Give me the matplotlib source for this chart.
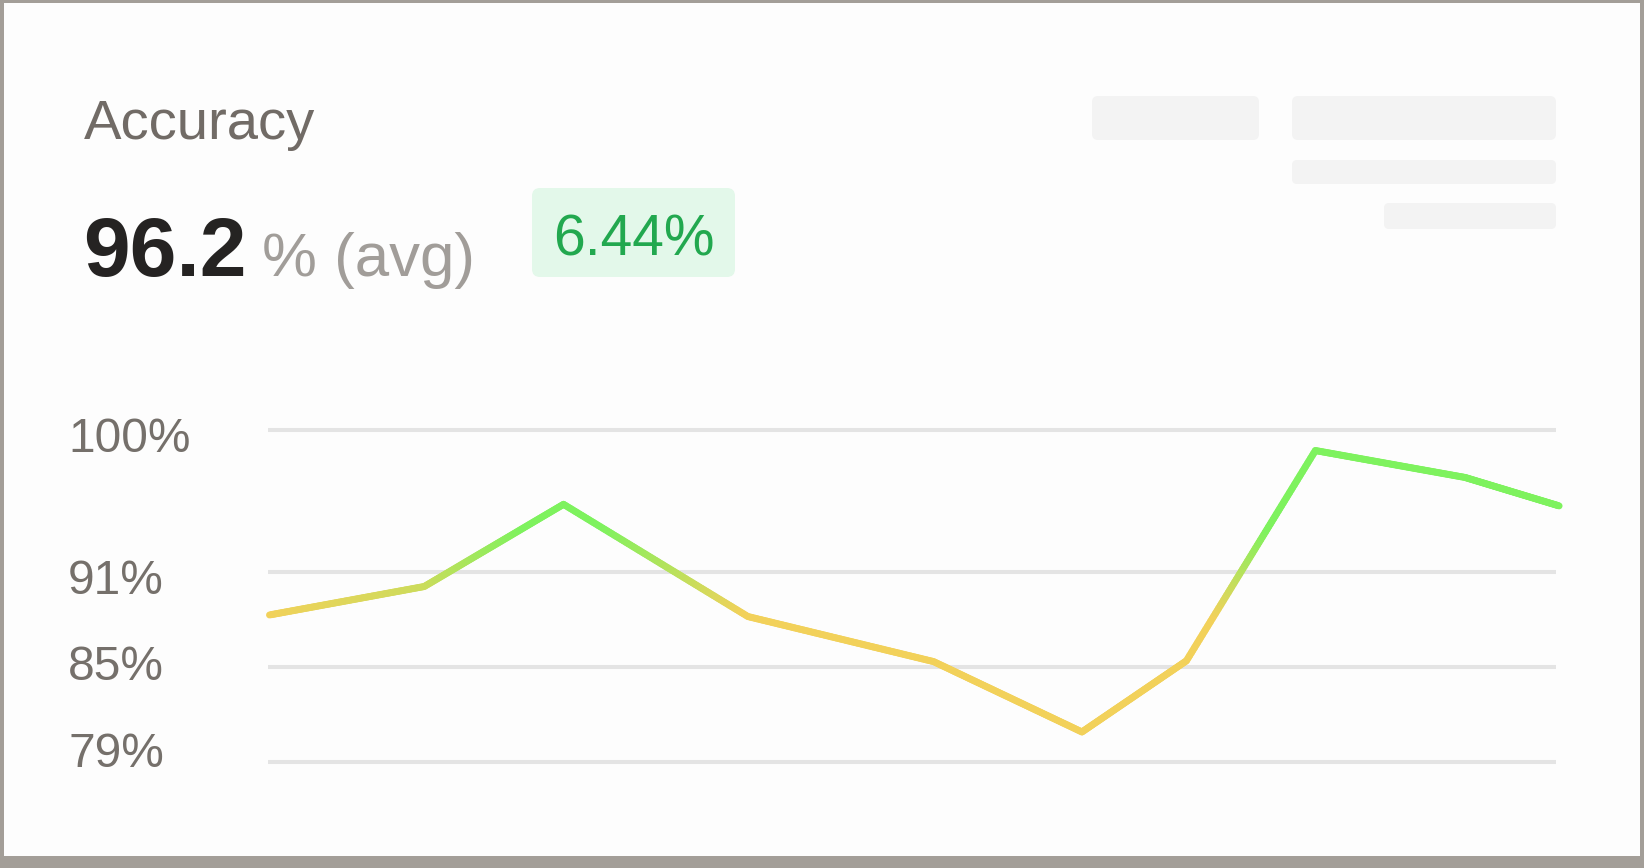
import numpy as np
import matplotlib
matplotlib.use("Agg")
import matplotlib.pyplot as plt
import matplotlib.transforms as mtransforms
from matplotlib.collections import LineCollection
from matplotlib.patches import FancyBboxPatch, Rectangle
from matplotlib.colors import LinearSegmentedColormap, Normalize

# ---- data ----
x_pos = [0, 12.0, 22.8, 37.1, 51.5, 63.0, 71.1, 81.1, 92.7, 100]
accuracy = [88.3, 90.1, 95.3, 88.2, 85.35, 80.9, 85.4, 98.7, 97.0, 95.2]
y_ticks = [79, 85, 91, 100]
y_tick_labels = ["79%", "85%", "91%", "100%"]
title = "Accuracy"
avg_value = "96.2"
avg_unit = "% (avg)"
change_label = "6.44%"

W, H = 1644, 868
plt.rcParams['font.family'] = ['Liberation Sans', 'DejaVu Sans']
fig = plt.figure(figsize=(W / 100, H / 100), dpi=100)
fig.patch.set_facecolor('#a39e98')

T = fig.dpi_scale_trans


def box(x0, y0, x1, y1, color, r, z=1):
    p = FancyBboxPatch((x0 / 100, (H - y1) / 100), (x1 - x0) / 100, (y1 - y0) / 100,
                       boxstyle=f"round,pad=0,rounding_size={r / 100}",
                       transform=T, facecolor=color, edgecolor='none', zorder=z)
    fig.add_artist(p)


# card
fig.add_artist(Rectangle((4 / 100, (H - 856) / 100), (1640 - 4) / 100, (856 - 3) / 100,
                         transform=T, facecolor='#fdfdfd', edgecolor='none', zorder=-10))

# skeleton placeholders
box(1092, 96, 1259, 140, '#f3f3f3', 6)
box(1292, 96, 1556, 140, '#f3f3f3', 6)
box(1292, 160, 1556, 184, '#f3f3f3', 5)
box(1384, 203, 1556, 229, '#f3f3f3', 5)

# header texts
fig.text(84 / W, 1 - 139 / H, title, fontsize=40.5, color='#716b66', va='baseline', ha='left')
fig.text(83 / W, 1 - 276 / H, avg_value, fontsize=60.5, fontweight='bold', color='#252322',
         va='baseline', ha='left')
fig.text(262 / W, 1 - 276 / H, avg_unit, fontsize=44.5, color='#a19d99', va='baseline', ha='left')

# badge
box(532, 188, 735, 277, '#e3f8ea', 8)
fig.text(553 / W, 1 - 255 / H, change_label, fontsize=41, color='#22a84f', va='baseline',
         ha='left', zorder=2)

# ---- chart axes ----
ax_left, ax_right = 268, 1556
px_per_pct = 15.81
y_top_val, y_bot_val = 101, 78
ax_top = 430 - (y_top_val - 100) * px_per_pct
ax_bot = 762 + (79 - y_bot_val) * px_per_pct
ax = fig.add_axes([ax_left / W, 1 - ax_bot / H, (ax_right - ax_left) / W, (ax_bot - ax_top) / H])
ax.set_zorder(5)
ax.set_facecolor('none')
ax.set_ylim(y_bot_val, y_top_val)
x_unit_px = (1559.1 - 269.5) / 100
ax.set_xlim((ax_left - 269.5) / x_unit_px, (ax_right - 269.5) / x_unit_px)
for s in ax.spines.values():
    s.set_visible(False)
ax.set_xticks([])
ax.set_yticks(y_ticks)
ax.set_yticklabels(y_tick_labels)
ax.tick_params(axis='y', length=0, pad=144, labelsize=34.5, labelcolor='#75706b')
# small vertical offsets of the labels relative to their grid lines (px, + = up)
label_shift = [13, 5, -4, -5]
for lab, dy in zip(ax.get_yticklabels(), label_shift):
    lab.set_horizontalalignment('left')
    lab.set_transform(lab.get_transform() +
                      mtransforms.ScaledTranslation(0, dy / 100, fig.dpi_scale_trans))
ax.yaxis.grid(True, color='#e4e4e4', linewidth=2.9)
ax.set_axisbelow(True)

# gradient line (color by value)
xs, ys = [], []
for i in range(len(x_pos) - 1):
    t = np.linspace(0, 1, 80, endpoint=False)
    xs.extend(x_pos[i] + (x_pos[i + 1] - x_pos[i]) * t)
    ys.extend(accuracy[i] + (accuracy[i + 1] - accuracy[i]) * t)
xs.append(x_pos[-1]); ys.append(accuracy[-1])
xs = np.array(xs); ys = np.array(ys)
pts = np.column_stack([xs, ys]).reshape(-1, 1, 2)
segs = np.concatenate([pts[:-1], pts[1:]], axis=1)
cmap = LinearSegmentedColormap.from_list('yg', ['#f2d15a', '#7ef25e'])
norm = Normalize(88.3, 93.8, clip=True)
lc = LineCollection(segs, cmap=cmap, norm=norm, linewidths=5.0, capstyle='round',
                    joinstyle='round', clip_on=False, zorder=3)
lc.set_array((ys[:-1] + ys[1:]) / 2)
ax.add_collection(lc)

fig.savefig('out.png', dpi=100, facecolor=fig.get_facecolor())
